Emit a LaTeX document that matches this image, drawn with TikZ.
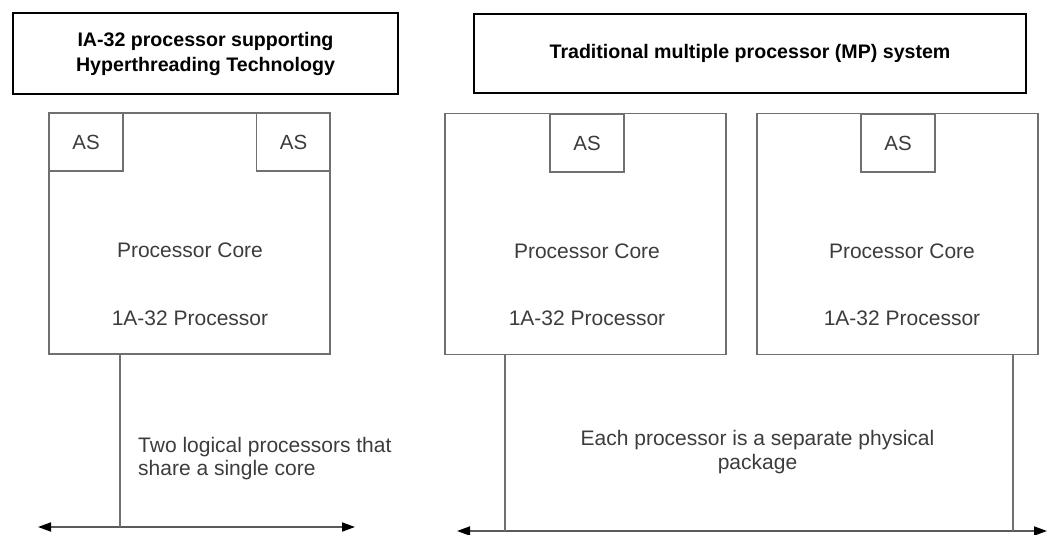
\documentclass[tikz,border=0pt]{standalone}
\usepackage{fontspec}
\setmainfont{Liberation Sans}
\usetikzlibrary{arrows.meta}
\definecolor{boxgray}{HTML}{707070}
\definecolor{txtgray}{HTML}{3C3C3C}
\definecolor{arrowgray}{HTML}{5A5A5A}
\tikzset{
  titlebox/.style={draw=black, line width=2pt, inner sep=0pt, font=\fontsize{19.6}{25}\selectfont\bfseries, align=center},
  procbox/.style={draw=boxgray, line width=1.4pt, minimum width=281pt, minimum height=241pt, inner sep=0pt},
  asbox/.style={draw=boxgray, line width=1.4pt, minimum width=74pt, minimum height=58pt, inner sep=0pt,
    font=\fontsize{20.5}{24}\selectfont, text=txtgray},
  lbl/.style={font=\fontsize{21}{23.5}\selectfont, text=txtgray, inner sep=0pt},
  wire/.style={draw=boxgray, line width=1.6pt},
  bus/.style={draw=arrowgray, line width=1.8pt,
    {Triangle[length=13pt,width=9pt,fill=black,color=black]}-{Triangle[length=13pt,width=9pt,fill=black,color=black]}}
}
\begin{document}
\begin{tikzpicture}[x=1pt,y=-1pt]
  \useasboundingbox (0,0) rectangle (1047,535);

  % title boxes
  \node[titlebox, minimum width=385pt, minimum height=81pt] (t1) at (205.5,53.5)
    {IA-32 processor supporting\\Hyperthreading Technology};
  \node[titlebox, minimum width=552pt, minimum height=79pt] (t2) at (750,53.5)
    {Traditional multiple processor (MP) system};

  % hyperthreaded processor: one core, two architectural states
  \node[procbox] (lp) at (189.5,233.5) {};
  \node[asbox] (las1) at (86,142) {AS};
  \node[asbox] (las2) at (293.5,142) {AS};
  \node[lbl] (lcore) at (190,250) {Processor Core};
  \node[lbl] (lname) at (190,318) {1A-32 Processor};

  % MP system: two separate processors
  \node[procbox] (rp1) at (585.5,234) {};
  \node[asbox] (ras1) at (587,143) {AS};
  \node[lbl] (rcore1) at (587,251) {Processor Core};
  \node[lbl] (rname1) at (587,318) {1A-32 Processor};

  \node[procbox] (rp2) at (897.5,234) {};
  \node[asbox] (ras2) at (898,143) {AS};
  \node[lbl] (rcore2) at (902,251) {Processor Core};
  \node[lbl] (rname2) at (902,318) {1A-32 Processor};

  % buses
  \coordinate (lbA) at (38,527);
  \coordinate (lbB) at (355,527);
  \coordinate (lj) at (120,527);
  \draw[bus] (lbA) -- (lbB);
  \draw[wire] (lp.south -| lj) -- (lj);

  \coordinate (rbA) at (457,531);
  \coordinate (rbB) at (1047,531);
  \coordinate (rj1) at (505,531);
  \coordinate (rj2) at (1013,531);
  \draw[bus] (rbA) -- (rbB);
  \draw[wire] (rp1.south -| rj1) -- (rj1);
  \draw[wire] (rp2.south -| rj2) -- (rj2);

  % captions
  \node[lbl, align=left, anchor=north west] (lcap) at (138,437)
    {Two logical processors that\\share a single core};
  \node[lbl, align=center] (rcap) at (757.5,452)
    {Each processor is a separate physical\\package};
\end{tikzpicture}
\end{document}
